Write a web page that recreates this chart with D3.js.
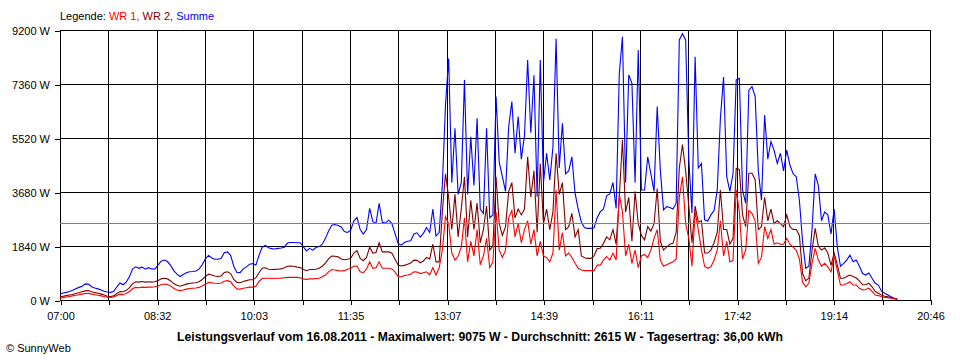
<!DOCTYPE html>
<html><head><meta charset="utf-8">
<script src="https://cdn.jsdelivr.net/npm/d3@7"></script>
<style>
html,body{margin:0;padding:0;background:#fff;}
svg{display:block;}
text{font-family:"Liberation Sans",Arial,sans-serif;}
</style></head><body>
<svg id="chart" width="960" height="360"></svg>
<script>
// ---- data ----
const startTime = "07:00";
const endTime = "20:46";
const stepMinutes = 3;
const yTicks = [0, 1840, 3680, 5520, 7360, 9200];
const xTickLabels = ["07:00","08:32","10:03","11:35","13:07","14:39","16:11","17:42","19:14","20:46"];
const average = 2615;
const legendParts = [["Legende: ", "#000000"], ["WR 1, ", "#ff0000"], ["WR 2, ", "#800000"], ["Summe", "#0000ff"]];
const title = "Leistungsverlauf vom 16.08.2011 - Maximalwert: 9075 W - Durchschnitt: 2615 W - Tagesertrag: 36,00 kWh";
const footer = "\u00A9 SunnyWeb";

const summe = [
200,240,260,290,330,380,430,470,550,540,
450,410,380,340,300,270,260,290,450,580,
520,620,800,1060,1130,1080,1120,1050,1100,1060,
1050,1190,1320,1360,1310,1180,1000,880,800,870,
930,960,970,990,1050,1200,1400,1520,1430,1390,
1390,1420,1610,1640,1520,1150,940,930,1060,1130,
1220,1240,1190,1530,1800,1860,1780,1750,1740,1760,
1770,1800,1940,1960,1960,1950,1950,1820,1670,1760,
1700,1790,1820,1900,2100,2350,2550,2570,2540,2490,
2330,2300,2380,2700,2810,2400,2250,2400,3120,2670,
2610,3290,2650,2620,2720,2610,2270,1930,1870,1960,
2000,2020,2250,2290,2140,2270,2470,2300,3100,2180,
2300,3900,6640,8230,4000,5850,3600,4000,7500,3600,
5560,3900,6190,3100,2950,5850,2800,2900,6930,4700,
4200,3700,5900,6760,5000,6250,4800,5600,8180,5700,
7660,3520,8180,4000,5000,4090,5200,8900,4500,6020,
4300,4400,4880,3640,3100,2650,2460,2440,2440,2460,
2800,3010,3100,3550,3620,4000,3120,7720,8970,4000,
7670,7380,4000,8520,3750,3750,4880,4300,3700,6590,
4400,3070,3180,3150,3100,3300,8860,9075,8860,4800,
2960,8290,4500,4650,2730,2690,2900,3050,3750,6190,
7600,4200,3700,4300,7500,7550,3750,3300,7150,7270,
6930,4400,3400,6300,4800,5400,5100,4650,5000,4400,
5110,4600,4300,4200,3400,2000,1080,1150,2400,4300,
3900,2700,3000,2900,2250,3100,1800,1150,1250,1360,
1530,1300,1360,1150,900,850,920,740,570,510,
300,230,170,110,60,30
];

const wr2 = [
110,130,150,170,190,220,250,280,310,320,
280,250,230,200,170,130,120,140,220,290,
280,330,420,560,620,610,630,610,620,610,
620,660,720,740,720,650,560,500,470,500,
540,560,580,590,620,700,800,880,850,820,
800,820,940,960,900,700,600,590,630,660,
690,690,760,930,1080,1100,1050,1040,1045,1050,
1060,1100,1150,1160,1150,1120,1110,1050,1000,1040,
1040,1050,1080,1150,1260,1400,1500,1490,1470,1400,
1370,1390,1420,1600,1680,1420,1340,1450,1800,1600,
1620,1950,1640,1640,1640,1600,1400,1190,1160,1180,
1220,1260,1360,1350,1270,1330,1450,1400,1900,1300,
1300,3000,4300,3500,2400,3600,2150,3100,4200,2150,
3400,2400,3300,1950,2400,3200,1700,1850,4200,2600,
2200,2500,3700,4000,2800,3100,2900,3100,4880,3500,
4400,2300,4650,2600,3100,2400,3000,5000,3600,4000,
2400,2500,2950,2150,2400,1500,1440,1420,1420,1500,
1750,1760,1930,2150,2050,2400,1900,3500,5450,3000,
3500,2000,3700,2600,2200,2050,2500,2350,2600,3800,
2000,1700,1800,1900,1930,2300,4500,5300,4400,3200,
1950,3200,2650,2700,1600,1600,1700,1950,2300,3750,
2400,2400,1900,2100,4490,4450,2900,2500,4320,4320,
4100,2400,2500,3500,2700,3100,2600,2700,2600,2500,
2900,2500,2400,2400,2200,900,660,740,1700,2440,
1830,1700,1780,1600,1180,1600,1200,740,740,800,
850,800,750,650,520,520,570,450,290,230,
170,130,110,80,50,25
];

const wr1 = [
60,80,100,120,140,160,180,200,220,225,
200,180,160,140,120,95,90,100,150,200,
190,220,290,390,430,420,440,430,440,440,
450,480,520,545,530,480,400,340,320,340,
370,390,400,410,430,480,540,600,590,570,
560,580,640,660,620,480,380,370,400,420,
440,440,470,640,730,740,740,735,740,740,
745,760,770,775,770,770,760,720,700,720,
720,735,740,790,850,960,1040,1020,1000,990,
1000,1050,1080,1150,1160,960,930,1050,1300,1080,
1100,1300,1080,1080,1080,1060,960,800,790,830,
850,880,960,950,900,930,960,860,1100,850,
1100,1700,2840,2600,1600,1360,1500,1800,2800,1300,
2000,1500,2400,1200,1500,2100,1100,1300,3000,1700,
1450,1700,2800,3050,2150,2600,1950,2400,2700,1900,
2400,1500,2000,1500,1450,1300,1600,3750,1700,2300,
1500,1600,1450,1250,1080,1020,1000,1000,1000,1000,
1190,1190,1360,1480,1360,1590,1360,3600,3000,1500,
1900,1250,1700,1100,1500,1550,1450,1700,2100,2400,
1350,1150,1200,1250,1300,1400,3500,4200,2600,2100,
1150,3000,2400,1700,1150,1080,1130,1360,1700,2700,
1500,2000,1300,1350,3750,3000,1400,1700,3050,2950,
2700,1250,1450,2500,2100,2400,1900,1950,1900,1900,
2100,1900,1800,1700,1400,600,450,570,1250,1760,
1360,1150,1250,1130,960,1500,1000,510,510,560,
620,510,510,400,340,360,400,290,170,150,
110,90,80,60,40,20
];

// ---- layout ----
const toMin = s => { const [h, m] = s.split(":").map(Number); return h * 60 + m; };
const span = toMin(endTime) - toMin(startTime);
const plot = {left: 60, right: 930, top: 30, bottom: 300};

const svg = d3.select("#chart");
const x = d3.scaleLinear().domain([0, span]).range([plot.left, plot.right]);
const y = d3.scaleLinear().domain([0, 9200]).range([plot.bottom, plot.top]);

const nGrid = (xTickLabels.length - 1) * 2;
const gridMinutes = d3.range(nGrid + 1).map(k => k * span / nGrid);

// grid
const grid = svg.append("g").attr("shape-rendering", "crispEdges");
grid.selectAll("line.v").data(gridMinutes).join("line")
  .attr("x1", d => Math.round(x(d)) + 0.5).attr("x2", d => Math.round(x(d)) + 0.5)
  .attr("y1", plot.top).attr("y2", plot.bottom)
  .attr("stroke", "#000").attr("stroke-width", 1);
grid.selectAll("line.h").data(yTicks).join("line")
  .attr("x1", plot.left).attr("x2", plot.right + 1)
  .attr("y1", d => Math.round(y(d)) + 0.5).attr("y2", d => Math.round(y(d)) + 0.5)
  .attr("stroke", "#000").attr("stroke-width", 1);

// axes
const xAxis = d3.axisBottom(x).tickValues(gridMinutes).tickSize(5).tickPadding(7)
  .tickFormat((d, i) => i % 2 === 0 ? xTickLabels[i / 2] : "");
const gx = svg.append("g").attr("transform", `translate(0.5,${plot.bottom})`).call(xAxis);
const yAxis = d3.axisLeft(y).tickValues(yTicks).tickSize(5).tickPadding(5)
  .tickFormat(d => d + " W");
const gy = svg.append("g").attr("transform", `translate(${plot.left},0.5)`).call(yAxis);
[gx, gy].forEach(g => {
  g.select(".domain").remove();
  g.selectAll(".tick line").attr("stroke", "#000").attr("shape-rendering", "crispEdges");
  g.selectAll("text").attr("font-size", 11).attr("fill", "#000")
    .attr("font-family", '"Liberation Sans", Arial, sans-serif');
  g.attr("font-family", null).attr("font-size", null);
});
gx.selectAll(".tick line").attr("transform", d => `translate(${Math.round(x(d)) - x(d)},0)`);

// data lines
const line = d3.line().x((d, i) => x(i * stepMinutes)).y(d => y(d));
const series = [[summe, "#0000ff"], [wr2, "#800000"], [wr1, "#ff0000"]];
svg.append("g").selectAll("path").data(series).join("path")
  .attr("d", d => line(d[0]))
  .attr("fill", "none").attr("stroke", d => d[1]).attr("stroke-width", 1.1)
  .attr("stroke-linejoin", "miter");

// average line
svg.append("line").attr("shape-rendering", "crispEdges")
  .attr("x1", plot.left).attr("x2", plot.right)
  .attr("y1", Math.round(y(average)) + 0.5).attr("y2", Math.round(y(average)) + 0.5)
  .attr("stroke", "#808080").attr("stroke-width", 1);

// legend
const leg = svg.append("text").attr("x", 60).attr("y", 20).attr("font-size", 11);
leg.selectAll("tspan").data(legendParts).join("tspan")
  .attr("fill", d => d[1]).style("white-space", "pre").text(d => d[0]);

// title
svg.append("text").attr("x", 480).attr("y", 341).attr("text-anchor", "middle")
  .attr("font-size", 12).attr("font-weight", "bold")
  .attr("textLength", 606).attr("lengthAdjust", "spacingAndGlyphs")
  .text(title);

// footer
svg.append("text").attr("x", 6).attr("y", 352).attr("font-size", 11).text(footer);
</script>
</body></html>
